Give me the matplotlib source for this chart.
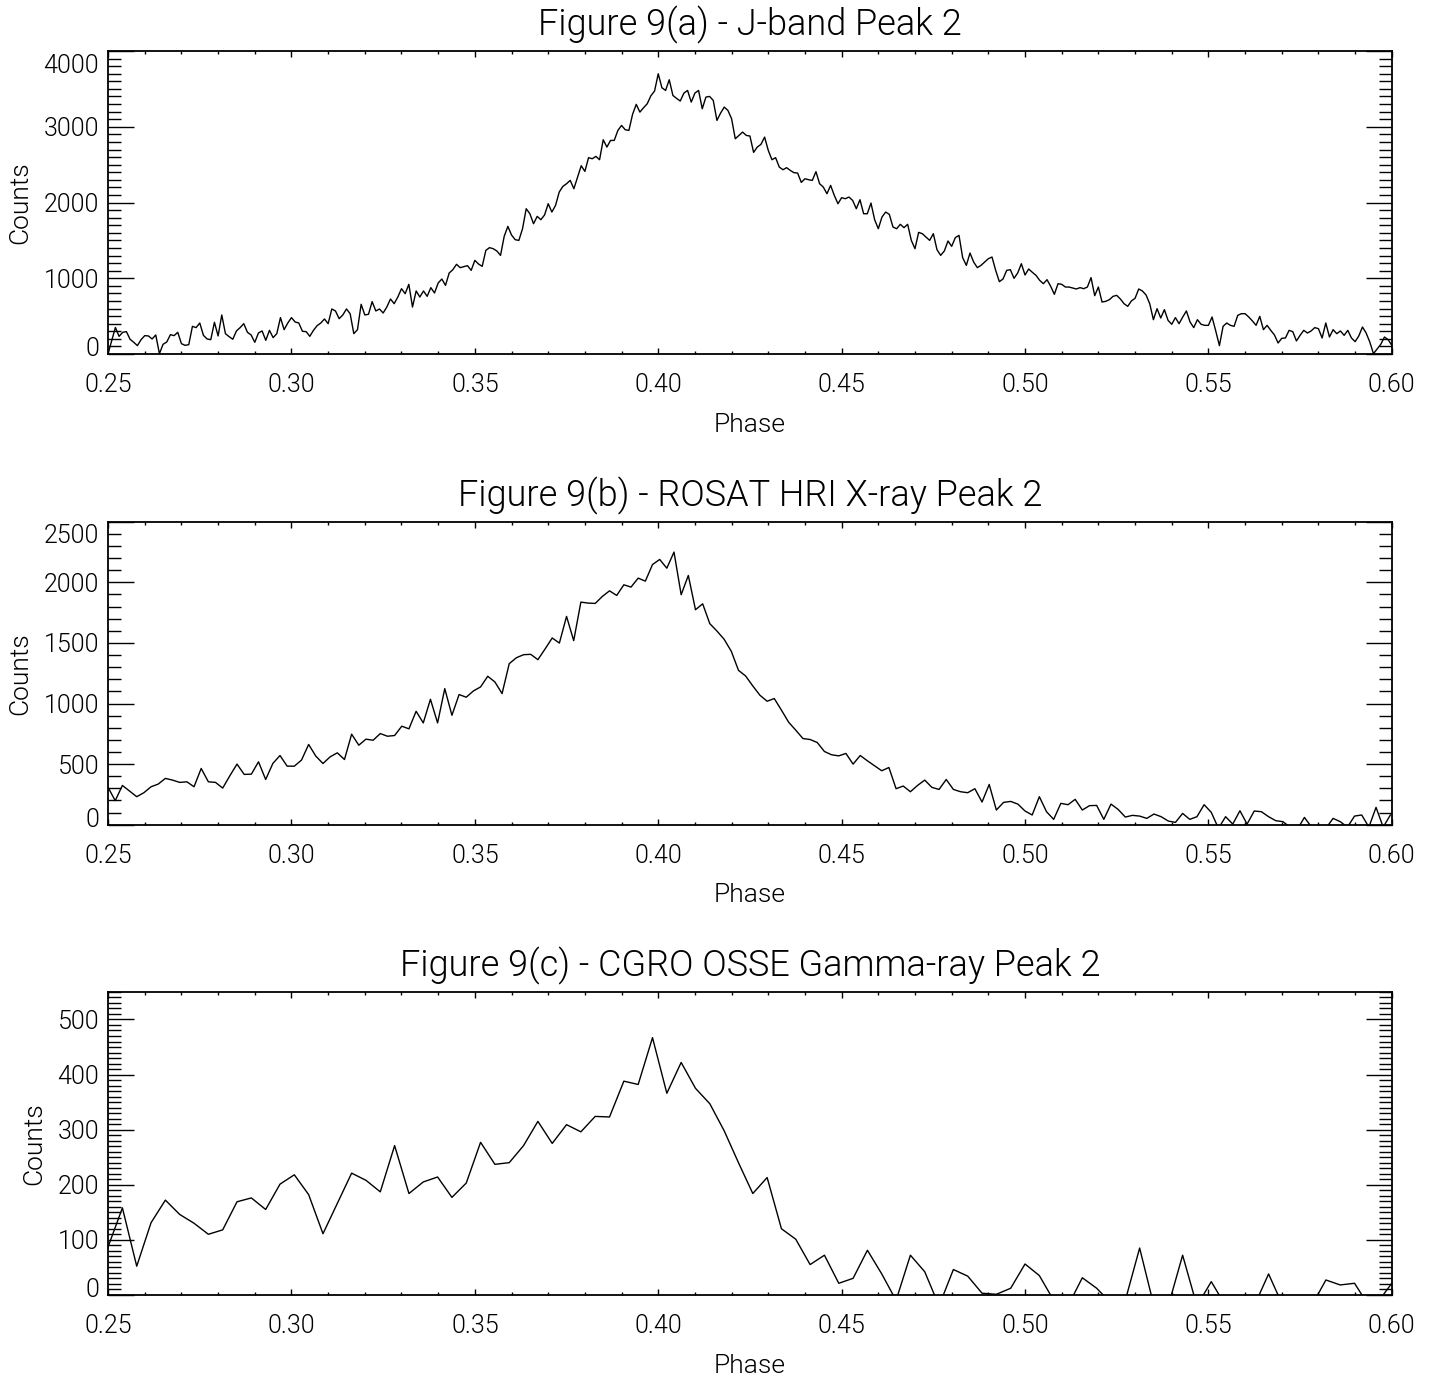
import numpy as np
import matplotlib
matplotlib.use('Agg')
import matplotlib.pyplot as plt
from matplotlib.ticker import MultipleLocator
from matplotlib.transforms import ScaledTranslation

# Counts (phase 0.25 -> 0.60)
# J-band, 0.001 phase bins
counts_j = [
    5, 180, 350, 233, 286, 295, 194, 154, 110, 189,
    242, 238, 198, 251, 4, 128, 158, 255, 242, 286,
    136, 114, 123, 365, 348, 409, 246, 198, 189, 418,
    238, 515, 268, 229, 194, 304, 348, 400, 286, 251,
    154, 277, 304, 180, 312, 216, 268, 480, 321, 409,
    480, 422, 409, 299, 295, 233, 312, 374, 409, 462,
    400, 594, 568, 466, 515, 594, 532, 268, 321, 656,
    515, 524, 691, 568, 594, 541, 620, 726, 664, 752,
    862, 796, 920, 620, 832, 752, 832, 761,
    876, 805, 937, 990, 906, 1069, 1113, 1184, 1140, 1153,
    1166, 1104, 1236, 1188, 1157, 1368, 1404, 1390, 1360, 1302,
    1553, 1685, 1571, 1509, 1500, 1654, 1918, 1852, 1720, 1817,
    1773, 1835, 1984, 1874, 1962, 2138, 2213, 2248, 2292, 2182,
    2336, 2486, 2411, 2592, 2578, 2609, 2565, 2829, 2732, 2820,
    2820, 2952, 3018, 2961, 2952, 3164, 3296, 3194, 3252, 3304,
    3410, 3472, 3700, 3516, 3480, 3621, 3414, 3375, 3340, 3445,
    3480, 3326, 3445, 3480, 3238, 3392, 3401, 3348, 3084, 3181,
    3260, 3216, 3106, 2842, 2886, 2930, 2886,
    2878, 2662, 2732, 2768, 2864, 2688, 2565, 2592, 2468, 2433,
    2460, 2424, 2394, 2389, 2266, 2314, 2301, 2292, 2407, 2248,
    2204, 2116, 2226, 2094, 1984, 2064, 2050, 2072, 2028, 1918,
    2037, 1852, 1852, 1993, 1773, 1654, 1808, 1874, 1844, 1676,
    1654, 1712, 1668, 1712, 1500, 1390, 1606, 1588, 1544, 1500,
    1588, 1377, 1302, 1360, 1492, 1421, 1536, 1566, 1272, 1170,
    1333, 1214, 1140, 1170, 1214, 1258, 1280, 1104, 955, 990,
    1104, 1113, 999, 1069, 1192, 1043, 1122, 1078, 1038, 972,
    928, 981, 893, 788, 928, 920, 884, 884,
    871, 858, 876, 862, 884, 1008, 770, 884, 686, 695,
    717, 761, 774, 726, 664, 629, 700, 735, 858, 832,
    779, 664, 453, 598, 475, 585, 444, 392, 480, 400,
    488, 568, 422, 348, 453, 392, 378, 378, 488, 304,
    110, 365, 409, 378, 365, 510, 532, 532, 488, 436,
    378, 497, 321, 378, 312, 251, 145, 207, 211, 312,
    295, 172, 246, 312, 277, 304, 348, 334, 211, 409,
    224, 321, 268, 304, 246, 312, 211, 163, 238, 356,
    277, 158, 4, 66, 128, 224, 189, 114,
]

# ROSAT HRI, 1/512 phase bins
counts_x = [
    308, 198, 324, 277, 231, 264, 313, 335, 382, 368,
    349, 354, 313, 464, 354, 349, 302, 404, 500, 415,
    417, 519, 373, 505, 571, 483, 483, 533, 662, 566,
    505, 560, 593, 538, 747, 656, 706, 697, 752, 730,
    736, 813, 791, 936, 840, 1035, 840, 1123, 903, 1074,
    1052, 1104, 1137, 1225, 1178, 1082, 1329, 1378, 1403, 1406,
    1362,
    1450, 1541, 1499, 1719, 1519, 1837, 1829, 1826, 1884, 1930,
    1892, 1980, 1961, 2035, 2010, 2147, 2189, 2117, 2250, 1898,
    2057, 1774, 1823, 1659, 1598, 1530, 1431, 1274, 1227, 1145,
    1068, 1019, 1041, 945, 846, 780, 711, 703, 678, 604,
    577, 568, 588, 500, 571, 527, 486, 445, 472, 297,
    319, 272, 324, 368, 308, 291, 373, 291,
    272, 264, 297, 187, 332, 121, 184, 192, 170, 113,
    80, 231, 107, 44, 176, 165, 209, 121, 157, 159,
    44, 170, 126, 63, 77, 71, 52, 88, 66, 30,
    19, 93, 44, 66, 165, 102, -30, 66, 5, 115,
    5, 113, 107, 66, 33, 25, -20, -40, 60, -20,
    -40, -30, 52, 25, -20, 71, 80, -20, 143, -20,
    80,
]

# CGRO OSSE, 1/256 phase bins
counts_g = [
    87, 158, 52, 131, 172, 146, 130, 110, 118, 169,
    176, 155, 201, 218, 182, 111, 166, 221, 208, 187,
    271, 184, 205, 214, 177, 203, 277, 237, 240, 271,
    315, 275, 309, 296, 324, 323, 388, 382, 467, 366,
    422, 375, 347, 298, 240, 184,
    213, 120, 101, 55, 72, 21, 30, 81, 38, -10,
    72, 42, -20, 46, 34, 3, 1, 12, 56, 35,
    -10, -20, 31, 12, -15, -10, 85, -20, -20, 72,
    -20, 24, -20, -20, -20, 38, -20, -20, -20, 27,
    18, 21, -20, 0, 35,
]

PHASE_START = 0.25
BIN_J = 0.001
BIN_X = 1 / 512
BIN_G = 1 / 256

titles = [
    'Figure 9(a) - J-band Peak 2',
    'Figure 9(b) - ROSAT HRI X-ray Peak 2',
    'Figure 9(c) - CGRO OSSE Gamma-ray Peak 2',
]

# light sans, closest thing to the thin vector font of the original
FONT = dict(family=['Roboto', 'DejaVu Sans'], weight=300, color='black')


def style_axes(ax, fig, ymax, ymajor, yminor):
    """Box with inward ticks on all sides, IDL style."""
    ax.set_xlim(0.25, 0.60)
    ax.set_ylim(0, ymax)
    ax.xaxis.set_major_locator(MultipleLocator(0.05))
    ax.xaxis.set_minor_locator(MultipleLocator(0.01))
    ax.yaxis.set_major_locator(MultipleLocator(ymajor))
    ax.yaxis.set_minor_locator(MultipleLocator(yminor))
    ax.xaxis.set_major_formatter(plt.FormatStrFormatter('%.2f'))
    ax.yaxis.set_major_formatter(plt.FormatStrFormatter('%d'))
    ax.tick_params(which='both', direction='in', top=True, right=True,
                   width=1.0, color='black', labelcolor='black')
    ax.tick_params(axis='y', which='major', length=18.5, pad=6.5)
    ax.tick_params(axis='y', which='minor', length=9.2)
    ax.tick_params(axis='x', which='major', length=4.3, pad=14)
    ax.tick_params(axis='x', which='minor', length=2.2)
    for sp in ax.spines.values():
        sp.set_linewidth(1.3)
    for lab in ax.get_xticklabels() + ax.get_yticklabels():
        lab.set_fontsize(18)
        lab.set_fontfamily(FONT['family'])
        lab.set_fontweight(FONT['weight'])
    ax.set_xlabel('Phase', fontsize=19, labelpad=11, **FONT)
    ax.set_ylabel('Counts', fontsize=19, labelpad=8, **FONT)

    # end labels pushed inward, as the original plotting package does
    locs = ax.yaxis.get_majorticklocs()
    ticks = ax.yaxis.get_major_ticks(len(locs))
    for loc, tick in zip(locs, ticks):
        if np.isclose(loc, 0):
            off = ScaledTranslation(0, 0.07, fig.dpi_scale_trans)
            tick.label1.set_transform(tick.label1.get_transform() + off)
        elif np.isclose(loc, ymax):
            off = ScaledTranslation(0, -0.12, fig.dpi_scale_trans)
            tick.label1.set_transform(tick.label1.get_transform() + off)


fig = plt.figure(figsize=(14.39, 13.8), dpi=100)

left, width, height = 0.0751, 0.8921, 0.2195
bottoms = [0.7435, 0.4024, 0.0617]
panels = [
    (counts_j, BIN_J, 4000, 1000, 100),
    (counts_x, BIN_X, 2500, 500, 100),
    (counts_g, BIN_G, 550, 100, 10),
]

for bottom, title, (counts, bin_w, ymax, ymajor, yminor) in zip(bottoms, titles, panels):
    ax = fig.add_axes([left, bottom, width, height])
    phase = PHASE_START + np.arange(len(counts)) * bin_w
    ax.plot(phase, counts, color='black', linewidth=1.0)
    style_axes(ax, fig, ymax, ymajor, yminor)
    ax.set_title(title, fontsize=26, pad=11, **FONT)

fig.savefig('out.png', dpi=100, facecolor='white')
